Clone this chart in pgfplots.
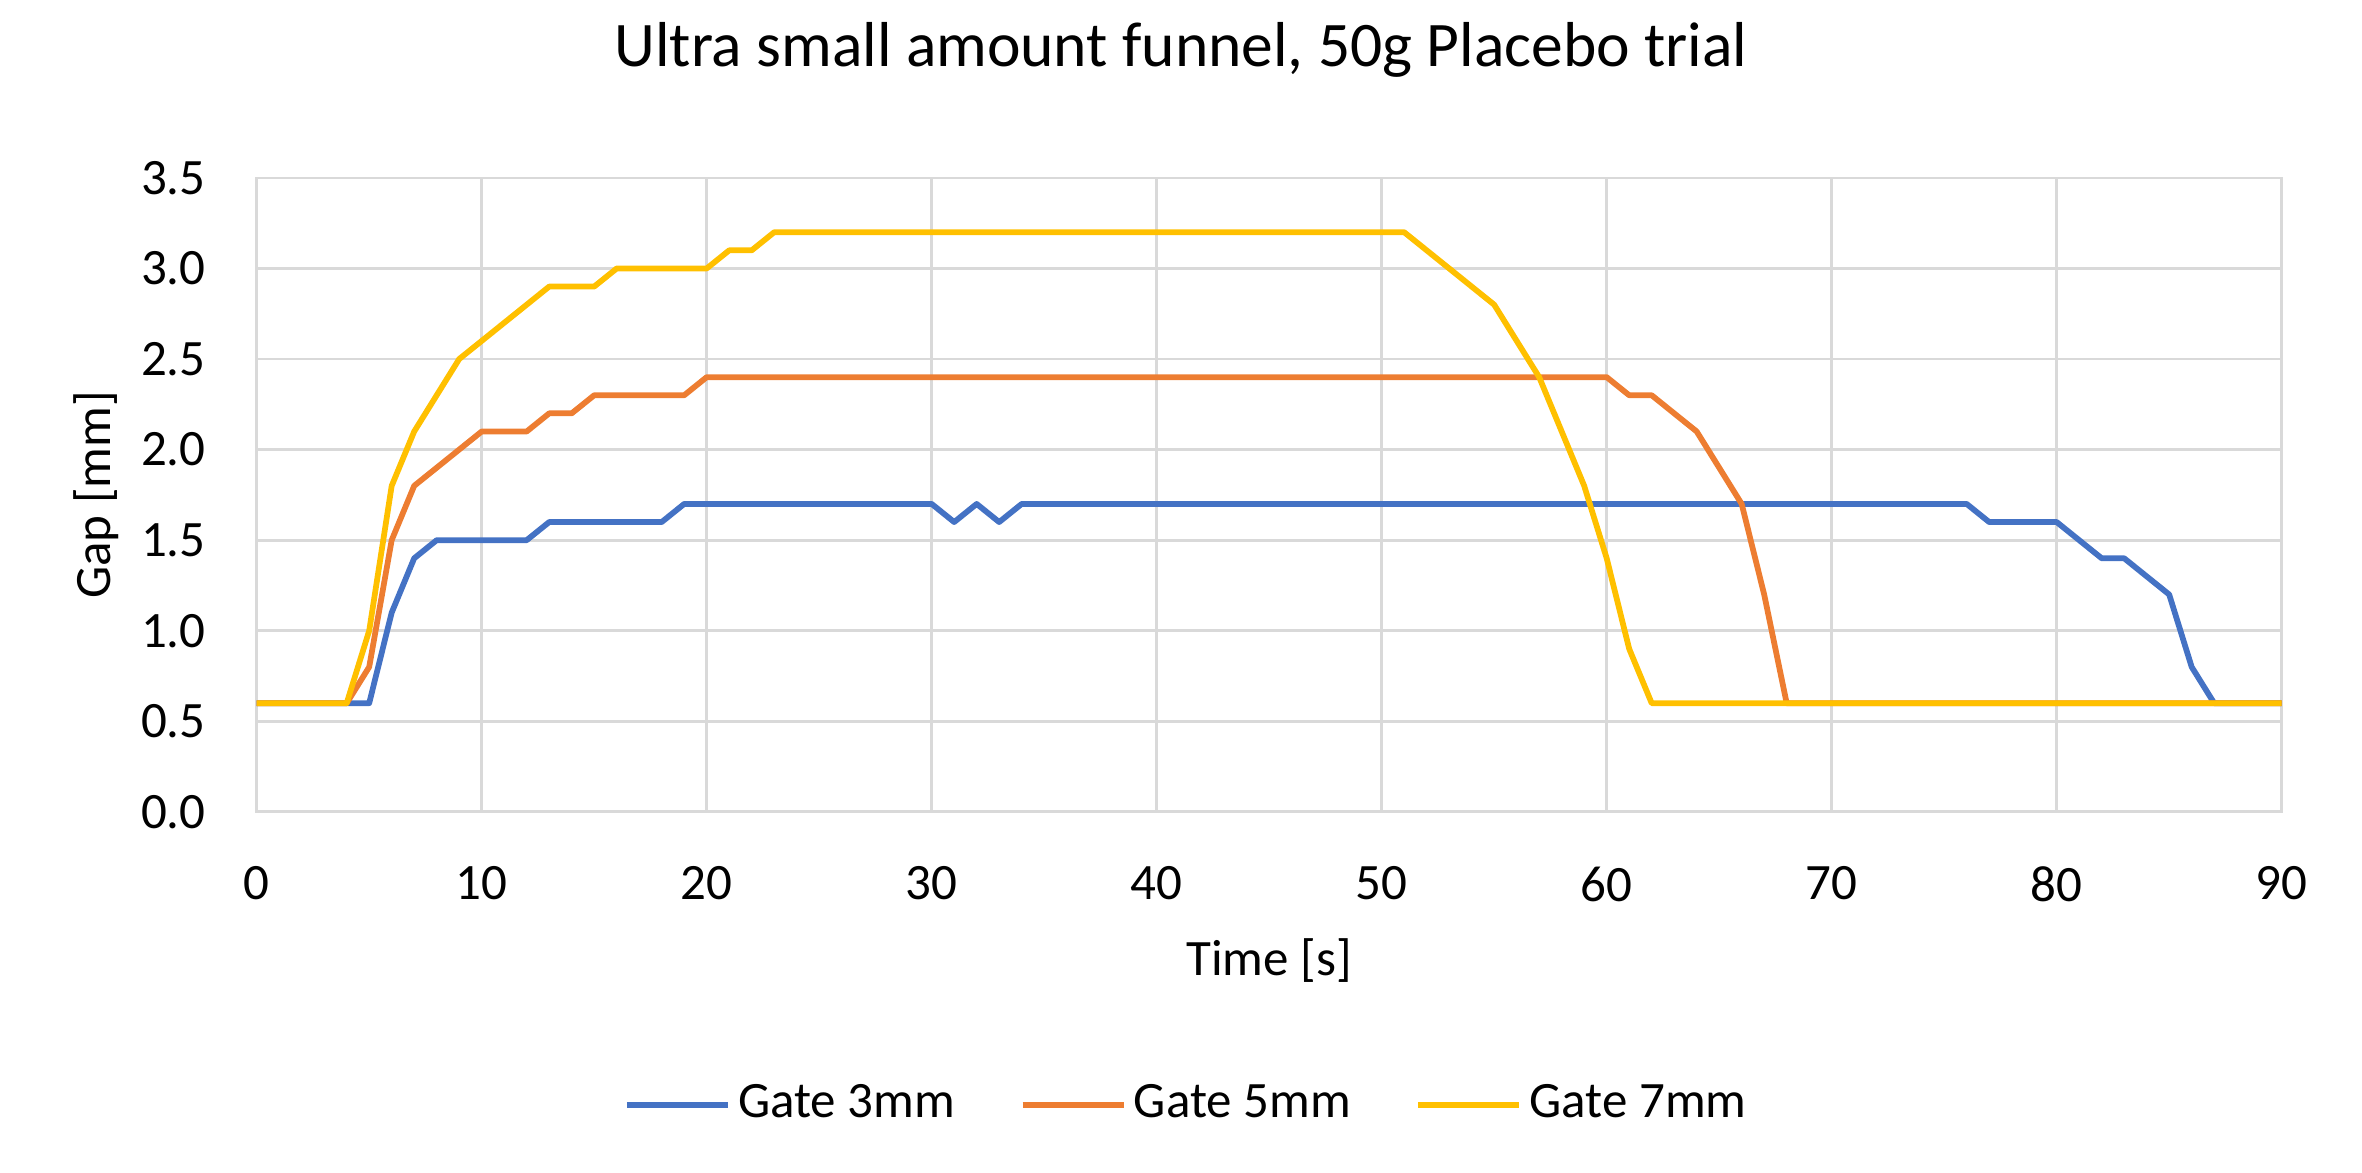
\documentclass[border=0pt]{standalone}
\usepackage{fontspec}
\setmainfont{Carlito}
\usepackage{pgfplots}
\pgfplotsset{compat=1.18}
\definecolor{cA}{HTML}{4472C4}
\definecolor{cB}{HTML}{ED7D31}
\definecolor{cC}{HTML}{FFC000}
\definecolor{gridc}{HTML}{D9D9D9}
\newcommand{\fs}{\fontsize{10.2}{12}\selectfont}
\begin{document}
\begin{tikzpicture}
\useasboundingbox (0,0) rectangle (472.4pt,234.6pt);
\begin{axis}[
  at={(51.34pt,72.22pt)}, anchor=south west,
  scale only axis, width=405pt, height=126.8pt,
  xmin=0, xmax=90, ymin=0, ymax=3.5,
  xtick={0,10,20,30,40,50,60,70,80,90},
  ytick={0,0.5,1,1.5,2,2.5,3,3.5},
  grid=major, grid style={gridc, line width=0.55pt},
  axis line style={gridc, line width=0.55pt},
  major tick length=0pt,
  /pgf/number format/assume math mode=true,
  yticklabel style={/pgf/number format/fixed, /pgf/number format/fixed zerofill, /pgf/number format/precision=1, inner sep=0pt, anchor=east, xshift=-10pt, font=\fs},
  xticklabel style={inner sep=0pt, anchor=north, yshift=-10.8pt, font=\fs},
  title={Ultra small amount funnel, 50g Placebo trial},
  title style={at={(axis description cs:0.4564,1.129)}, anchor=base, inner sep=0pt, font=\fontsize{12.7}{15}\selectfont},
  xlabel={Time [s]},
  xlabel style={at={(axis description cs:0.5,-0.2587)}, anchor=base, inner sep=0pt, font=\fs},
  ylabel={Gap [mm]},
  ylabel style={at={(axis description cs:-0.0723,0.5)}, rotate=0, anchor=base, inner sep=0pt, font=\fs},
  legend columns=3,
  legend cell align=left,
  legend style={at={(axis description cs:0.4604,-0.462)}, anchor=center, draw=none, fill=none, font=\fs, nodes={inner sep=1.5pt}, /tikz/every even column/.append style={column sep=11.4pt}},
  legend image code/.code={\draw[#1] (0pt,0pt) -- (20.2pt,0pt);},
  every axis plot/.append style={line width=1.15pt, line join=round},
]
\addplot[cA] coordinates {
(0,0.6)(1,0.6)(2,0.6)(3,0.6)(4,0.6)(5,0.6)(6,1.1)(7,1.4)(8,1.5)(9,1.5)(10,1.5)
(11,1.5)(12,1.5)(13,1.6)(14,1.6)(15,1.6)(16,1.6)(17,1.6)(18,1.6)(19,1.7)(20,1.7)
(21,1.7)(22,1.7)(23,1.7)(24,1.7)(25,1.7)(26,1.7)(27,1.7)(28,1.7)(29,1.7)(30,1.7)
(31,1.6)(32,1.7)(33,1.6)(34,1.7)(35,1.7)(36,1.7)(37,1.7)(38,1.7)(39,1.7)(40,1.7)
(41,1.7)(42,1.7)(43,1.7)(44,1.7)(45,1.7)(46,1.7)(47,1.7)(48,1.7)(49,1.7)(50,1.7)
(51,1.7)(52,1.7)(53,1.7)(54,1.7)(55,1.7)(56,1.7)(57,1.7)(58,1.7)(59,1.7)(60,1.7)
(61,1.7)(62,1.7)(63,1.7)(64,1.7)(65,1.7)(66,1.7)(67,1.7)(68,1.7)(69,1.7)(70,1.7)
(71,1.7)(72,1.7)(73,1.7)(74,1.7)(75,1.7)(76,1.7)(77,1.6)(78,1.6)(79,1.6)(80,1.6)
(81,1.5)(82,1.4)(83,1.4)(84,1.3)(85,1.2)(86,0.8)(87,0.6)(88,0.6)(89,0.6)(90,0.6)
};
\addlegendentry{Gate 3mm}
\addplot[cB] coordinates {
(0,0.6)(1,0.6)(2,0.6)(3,0.6)(4,0.6)(5,0.8)(6,1.5)(7,1.8)(8,1.9)(9,2.0)(10,2.1)
(11,2.1)(12,2.1)(13,2.2)(14,2.2)(15,2.3)(16,2.3)(17,2.3)(18,2.3)(19,2.3)(20,2.4)
(21,2.4)(22,2.4)(23,2.4)(24,2.4)(25,2.4)(26,2.4)(27,2.4)(28,2.4)(29,2.4)(30,2.4)
(31,2.4)(32,2.4)(33,2.4)(34,2.4)(35,2.4)(36,2.4)(37,2.4)(38,2.4)(39,2.4)(40,2.4)
(41,2.4)(42,2.4)(43,2.4)(44,2.4)(45,2.4)(46,2.4)(47,2.4)(48,2.4)(49,2.4)(50,2.4)
(51,2.4)(52,2.4)(53,2.4)(54,2.4)(55,2.4)(56,2.4)(57,2.4)(58,2.4)(59,2.4)(60,2.4)
(61,2.3)(62,2.3)(63,2.2)(64,2.1)(65,1.9)(66,1.7)(67,1.2)(68,0.6)(69,0.6)(70,0.6)
(71,0.6)(72,0.6)(73,0.6)(74,0.6)(75,0.6)(76,0.6)(77,0.6)(78,0.6)(79,0.6)(80,0.6)
(81,0.6)(82,0.6)(83,0.6)(84,0.6)(85,0.6)(86,0.6)(87,0.6)(88,0.6)(89,0.6)(90,0.6)
};
\addlegendentry{Gate 5mm}
\addplot[cC] coordinates {
(0,0.6)(1,0.6)(2,0.6)(3,0.6)(4,0.6)(5,1.0)(6,1.8)(7,2.1)(8,2.3)(9,2.5)(10,2.6)
(11,2.7)(12,2.8)(13,2.9)(14,2.9)(15,2.9)(16,3.0)(17,3.0)(18,3.0)(19,3.0)(20,3.0)
(21,3.1)(22,3.1)(23,3.2)(24,3.2)(25,3.2)(26,3.2)(27,3.2)(28,3.2)(29,3.2)(30,3.2)
(31,3.2)(32,3.2)(33,3.2)(34,3.2)(35,3.2)(36,3.2)(37,3.2)(38,3.2)(39,3.2)(40,3.2)
(41,3.2)(42,3.2)(43,3.2)(44,3.2)(45,3.2)(46,3.2)(47,3.2)(48,3.2)(49,3.2)(50,3.2)
(51,3.2)(52,3.1)(53,3.0)(54,2.9)(55,2.8)(56,2.6)(57,2.4)(58,2.1)(59,1.8)(60,1.4)
(61,0.9)(62,0.6)(63,0.6)(64,0.6)(65,0.6)(66,0.6)(67,0.6)(68,0.6)(69,0.6)(70,0.6)
(71,0.6)(72,0.6)(73,0.6)(74,0.6)(75,0.6)(76,0.6)(77,0.6)(78,0.6)(79,0.6)(80,0.6)
(81,0.6)(82,0.6)(83,0.6)(84,0.6)(85,0.6)(86,0.6)(87,0.6)(88,0.6)(89,0.6)(90,0.6)
};
\addlegendentry{Gate 7mm}
\end{axis}
\end{tikzpicture}
\end{document}
